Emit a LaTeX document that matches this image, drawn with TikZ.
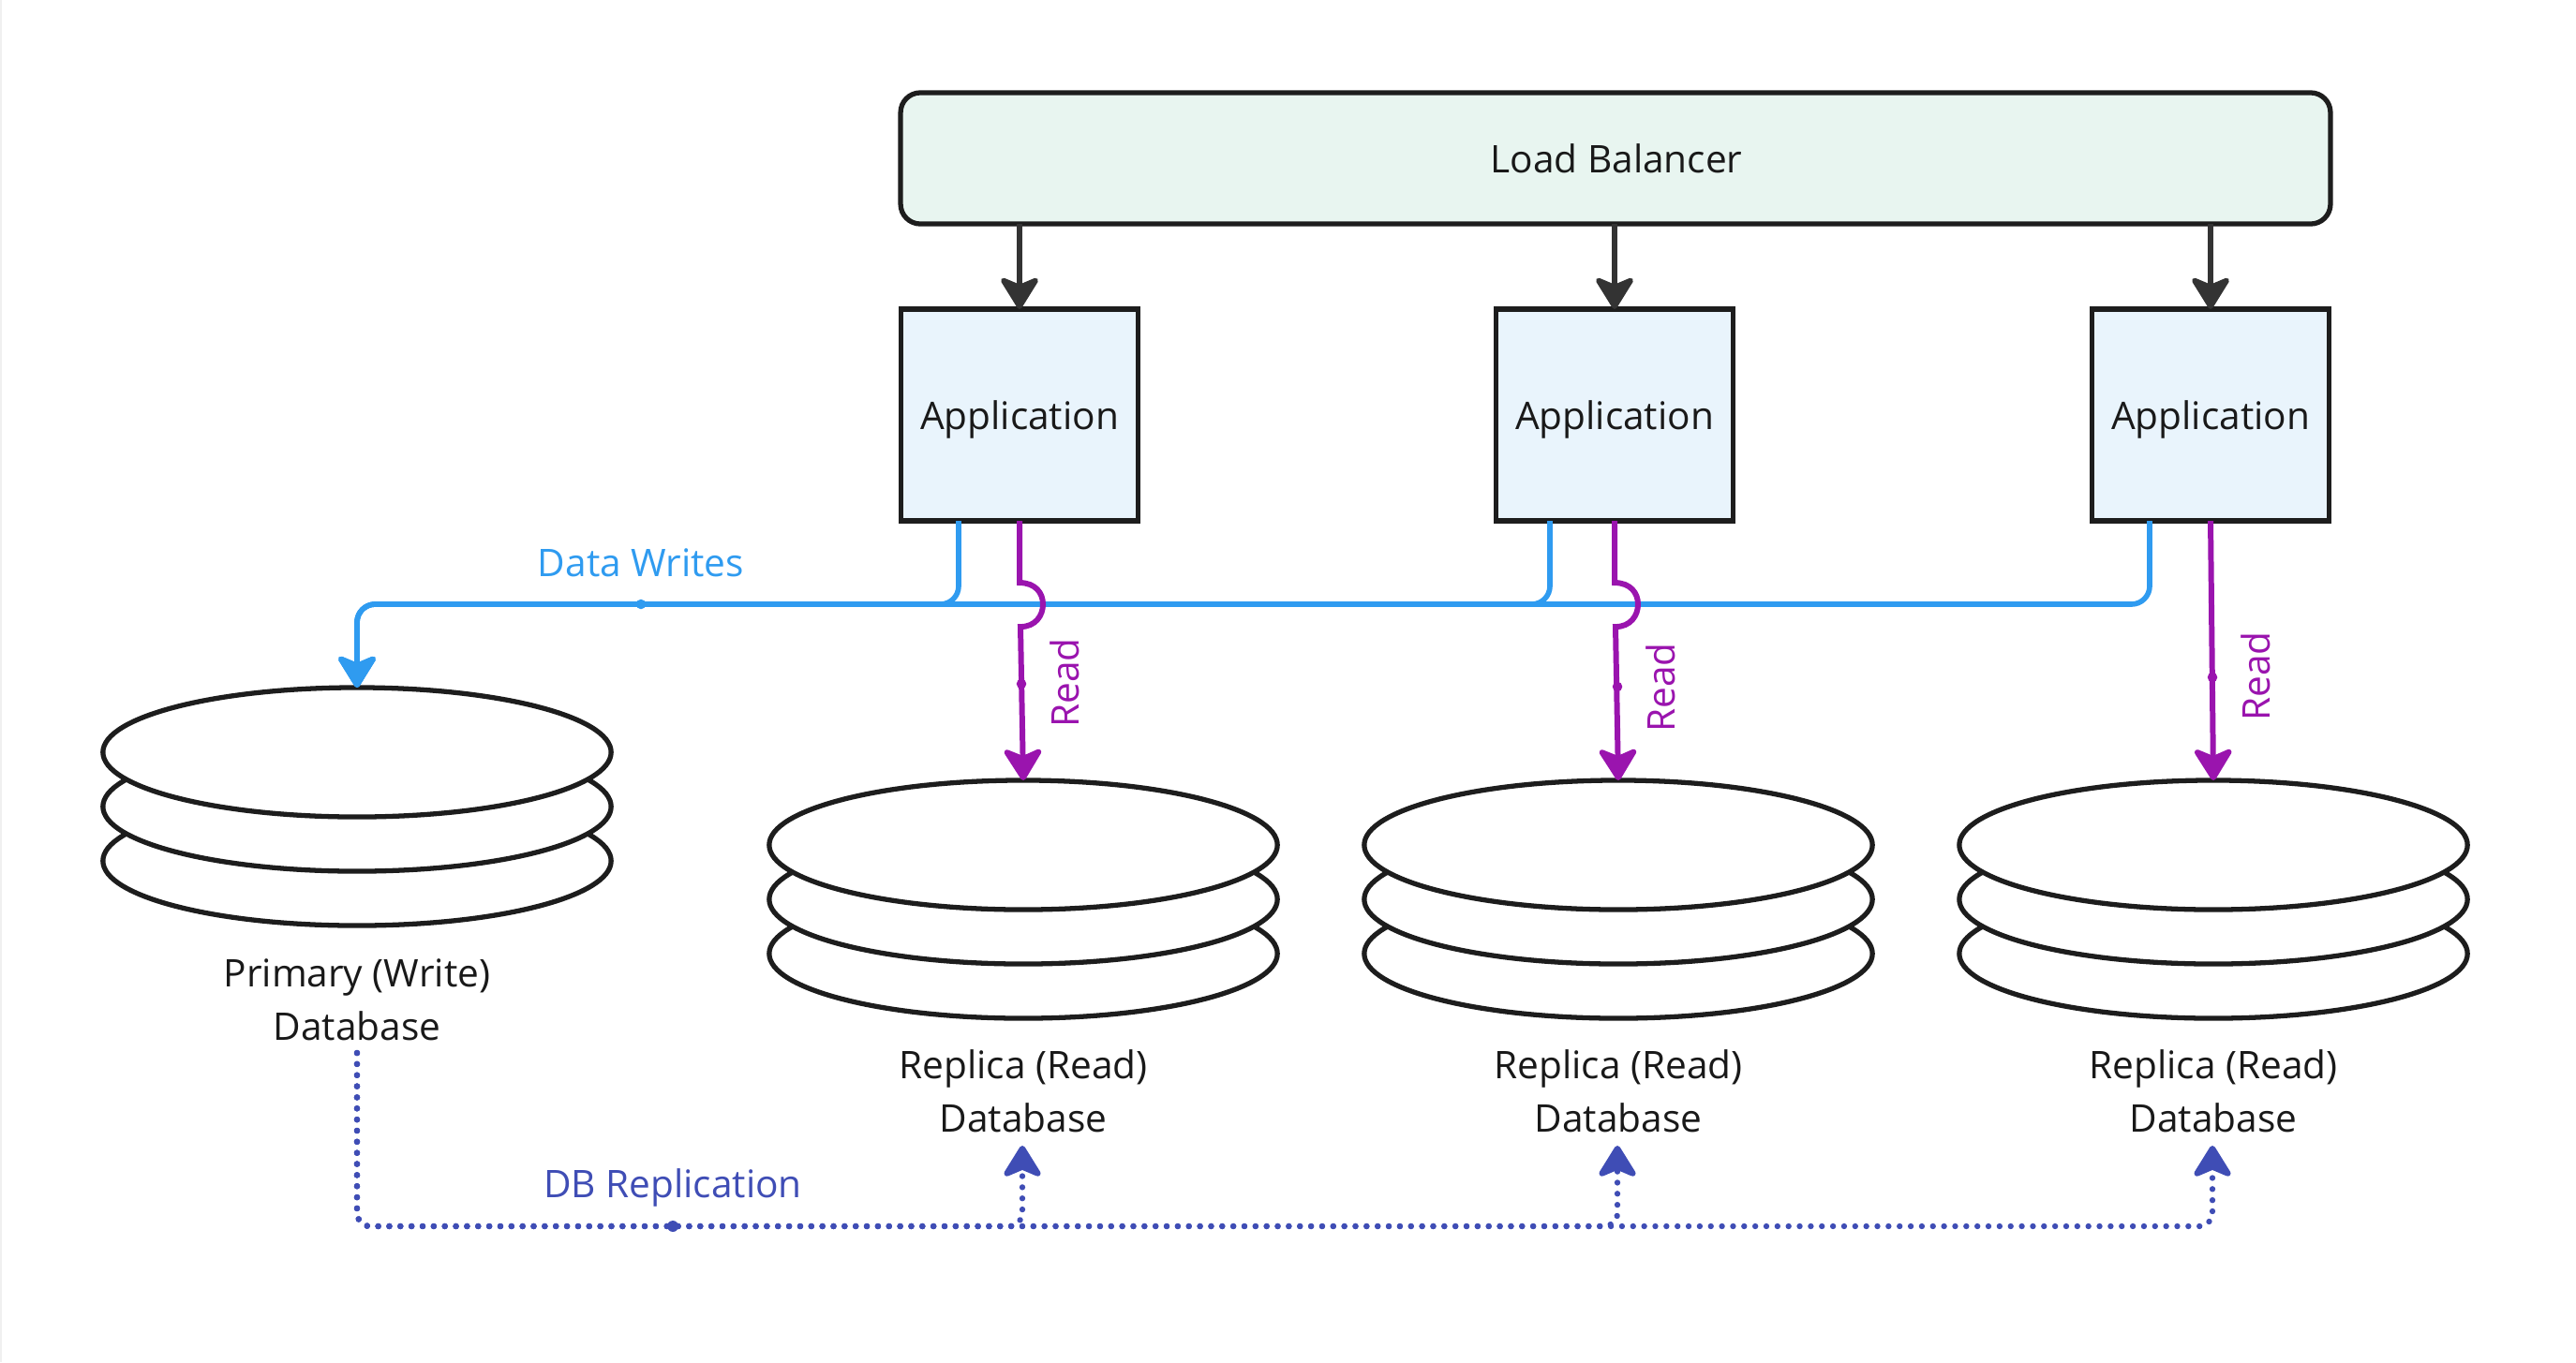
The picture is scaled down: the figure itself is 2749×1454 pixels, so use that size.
\documentclass[tikz,border=0pt]{standalone}
\usepackage{fontspec}
\setmainfont{Open Sans}
\usetikzlibrary{
    arrows.meta,
    shapes,
    calc,
    positioning
}
\definecolor{edgeink}{HTML}{1D1D1D}
\definecolor{tipink}{HTML}{333333}
\definecolor{lbfill}{HTML}{E8F5F0}
\definecolor{appfill}{HTML}{E9F4FC}
\definecolor{writeblue}{HTML}{2F9BF0}
\definecolor{readpurple}{HTML}{9A14AE}
\definecolor{replindigo}{HTML}{3F4DB5}
\tikzset{
    lbbox/.style={draw=edgeink, fill=lbfill, line width=1.5pt, rounded corners=6pt, minimum width=15.25cm, minimum height=1.40cm, inner sep=0pt, outer sep=0pt},
    appbox/.style={draw=edgeink, fill=appfill, line width=1.5pt, minimum width=2.53cm, minimum height=2.26cm, inner sep=0pt, outer sep=0pt},
    disk/.style={ellipse, draw=edgeink, fill=white, line width=1.5pt, minimum width=5.42cm, minimum height=1.38cm, inner sep=0pt, outer sep=0pt},
    labeltext/.style={font=\fontsize{11.55}{13}\selectfont},
    dbtext/.style={align=center, text=black!90, font=\fontsize{11.55}{16.2}\selectfont},
    bigtip/.style={-{Stealth[length=11pt, width=13.5pt, inset=2.8pt, round]}},
    feedline/.style={bigtip, draw=tipink, line width=1.6pt},
    writeline/.style={bigtip, draw=writeblue, line width=1.6pt, rounded corners=5.5pt},
    readline/.style={bigtip, draw=readpurple, line width=1.7pt},
    replline/.style={bigtip, draw=replindigo, line width=1.8pt, line cap=round, dash pattern=on 0.01pt off 3.36pt, rounded corners=4pt}
}
\begin{document}
\begin{tikzpicture}[x=0.01cm, y=-0.01cm]
    \useasboundingbox (0,0) rectangle (2749,1454);
    \fill[black!6] (0,0) rectangle (2,1454);
    \node[lbbox] (lb) at (1724,169) {};
    \node[labeltext, text=black!90] (lbtext) at (1725,169) {Load Balancer};
    \foreach \i/\x in {1/1088, 2/1723, 3/2359} {
        \node[appbox] (app\i) at (\x,443) {};
        \node[labeltext, text=black!90] (apptext\i) at (\x,448) {Application};
        \coordinate (lbout\i) at (lb.south -| app\i.north);
        \draw[feedline] (lbout\i) -- (app\i.north);
    }
    % disks, bottom plate first
    \foreach \i/\x/\y in {0/381/803, 1/1092/902, 2/1727/902, 3/2362/902} {
        \node[disk] (db\i c) at (\x,\y + 116) {};
        \node[disk] (db\i b) at (\x,\y + 58) {};
        \node[disk] (db\i) at (\x,\y) {};
    }
    \node[dbtext] (dbtext0) at (381,1067) {Primary (Write)\\Database};
    \foreach \i/\x in {1/1092, 2/1727, 3/2362} {
        \node[dbtext] (dbtext\i) at (\x,1165) {Replica (Read)\\Database};
    }
    % data writes
    \coordinate (wbus) at (684,645);
    \foreach \i/\off in {3/-65,2/-69,1/-65} {
        \coordinate (wr\i) at ($(app\i.south) + (\off,0)$);
        \draw[writeline] (wr\i) |- (wbus) -| (db0.north);
    }
    \fill[writeblue] (wbus) circle (1.5pt);
    \node[labeltext, text=writeblue] (wlabel) at (684,601) {Data Writes};
    % reads
    \foreach \i in {1,2} {
        \coordinate (jump\i) at ($(app\i.south) + (0,66)$);
        \draw[readline] (app\i.south) -- (jump\i) .. controls ($(jump\i) + (17,0)$) and ($(jump\i) + (25,11)$) .. ($(jump\i) + (25,23)$) .. controls ($(jump\i) + (25,35)$) and ($(jump\i) + (17,47)$) .. ($(jump\i) + (1,47)$) -- (db\i.north);
    }
    \draw[readline] (app3.south) -- (db3.north);
    \foreach \i/\x/\y/\lx/\ly in {1/1090/730/1136/729, 2/1726/733/1772/734, 3/2361/723/2407/722} {
        \coordinate (rdot\i) at (\x,\y);
        \fill[readpurple] (rdot\i) circle (1.5pt);
        \node[rotate=90, labeltext, text=readpurple] (rlabel\i) at (\lx,\ly) {Read};
    }
    % db replication
    \coordinate (rsrc) at (381,1124);
    \coordinate (rbus) at (718,1309);
    \foreach \i in {1,2,3} {
        \coordinate (rtip\i) at ($(dbtext\i.center) + (-1,58)$);
        \draw[replline] (rsrc) |- (rbus) -| (rtip\i);
    }
    \fill[replindigo] (rbus) circle (1.7pt);
    \node[labeltext, text=replindigo] (rlabel) at (718,1268) {DB Replication};
\end{tikzpicture}
\end{document}
